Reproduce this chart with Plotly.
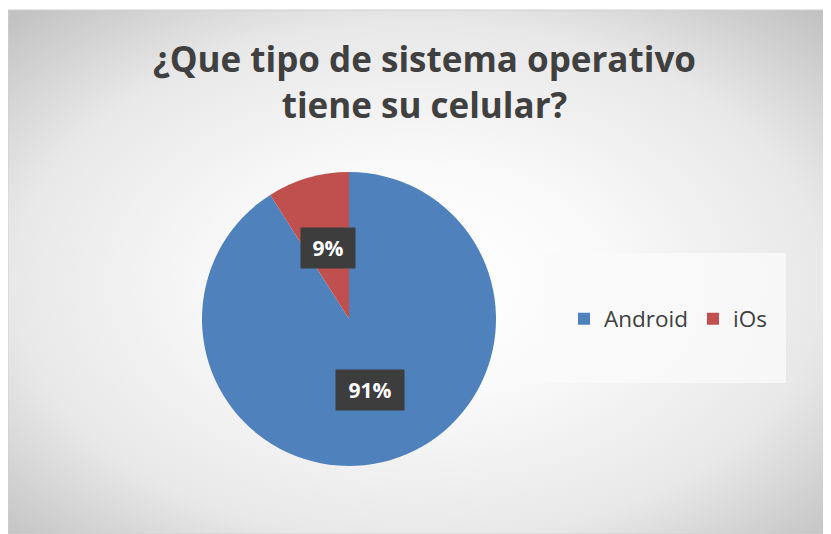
import base64, math
import plotly.graph_objects as go

labels = ["Android", "iOs"]
values = [91, 9]
colors = ["#4F81BD", "#C0504D"]
title_text = "¿Que tipo de sistema operativo<br>tiene su celular?"

# page has an 8px body margin; figure fills the rest of the 831x534 window
OFF = 8
W, H = 831 - OFF, 534 - OFF


def px_x(X):
    return (X - OFF) / W


def px_y(Y):
    return 1 - (Y - OFF) / H


dom_x = [px_x(202), px_x(496)]
dom_y = [px_y(466), px_y(172)]

svg = '''<svg xmlns="http://www.w3.org/2000/svg" width="820" height="524" viewBox="0 0 820 524" preserveAspectRatio="none">
<defs><radialGradient id="g" cx="0.5" cy="0.52" r="0.707" fx="0.5" fy="0.52">
<stop offset="0" stop-color="#ffffff"/><stop offset="0.3" stop-color="#fafafa"/><stop offset="0.7" stop-color="#e8e8e8"/><stop offset="1" stop-color="#c2c2c2"/></radialGradient></defs>
<rect width="820" height="524" fill="url(#g)"/></svg>'''
src = "data:image/svg+xml;base64," + base64.b64encode(svg.encode()).decode()

fig = go.Figure(go.Pie(
    labels=labels, values=values, sort=False, direction="clockwise", rotation=0,
    marker=dict(colors=colors, line=dict(width=0)),
    textinfo="none", hoverinfo="label+percent",
    domain=dict(x=dom_x, y=dom_y),
))

# data labels in dark boxes at half radius of each slice's mid-angle
cx = (dom_x[0] + dom_x[1]) / 2 * W
cy = (1 - (dom_y[0] + dom_y[1]) / 2) * H
R = min((dom_x[1] - dom_x[0]) * W, (dom_y[1] - dom_y[0]) * H) / 2
total = sum(values)
cum = 0
annotations = []
for v in values:
    mid = (cum + v / 2) / total * 2 * math.pi
    cum += v
    ax = cx + 0.5 * R * math.sin(mid)
    ay = cy - 0.5 * R * math.cos(mid)
    txt = f"{round(v / total * 100)}%"
    annotations.append(dict(
        x=ax / W, y=1 - ay / H, xref="paper", yref="paper", showarrow=False,
        text=f"<b>{txt}</b>", font=dict(family="Open Sans, sans-serif", size=21, color="#ffffff"),
        bgcolor="#3d3d3d", borderpad=0, width=26 + 14 * len(txt) if len(txt) > 2 else 54, height=40,
        xanchor="center", yanchor="middle",
    ))

annotations.append(dict(
    x=px_x(425), y=px_y(81), xref="paper", yref="paper", showarrow=False,
    text=f"<b>{title_text}</b>", font=dict(family="Open Sans, sans-serif", size=35, color="#404040"),
    xanchor="center", yanchor="middle", align="center",
))

fig.update_layout(
    width=W, height=H, margin=dict(l=0, r=0, t=0, b=0),
    paper_bgcolor="#ffffff", plot_bgcolor="#ffffff",
    images=[dict(source=src, xref="paper", yref="paper", x=px_x(8), y=px_y(10),
                 sizex=820 / W, sizey=524 / H, sizing="stretch", layer="below",
                 xanchor="left", yanchor="top")],
    shapes=[
        dict(type="rect", xref="paper", yref="paper", x0=px_x(8), x1=px_x(828), y0=0, y1=px_y(10),
             line=dict(color="#d0d0d0", width=1), layer="below"),
        dict(type="rect", xref="paper", yref="paper", x0=px_x(544), x1=px_x(786),
             y0=px_y(383), y1=px_y(253), fillcolor="rgba(250,250,250,0.8)",
             line=dict(width=0), layer="below"),
    ],
    legend=dict(orientation="h", x=px_x(668), y=px_y(319), xanchor="center", yanchor="middle",
                font=dict(family="Open Sans, sans-serif", size=22.5, color="#404040"),
                bgcolor="rgba(0,0,0,0)", itemwidth=30),
    annotations=annotations,
)

fig.write_html("out.html")
